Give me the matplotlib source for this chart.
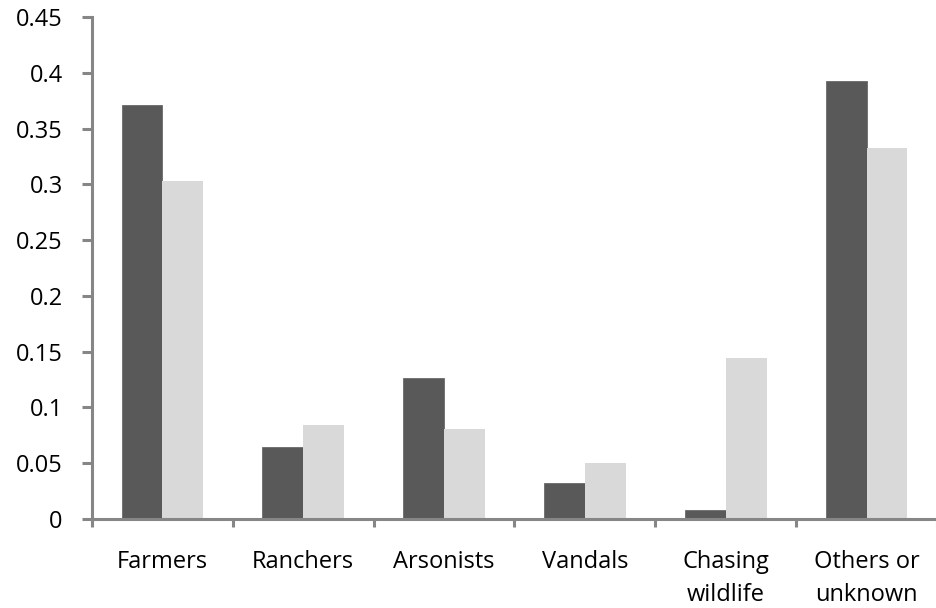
import numpy as np
import matplotlib
matplotlib.use("Agg")
import matplotlib.pyplot as plt

plt.rcParams['font.family'] = ['Open Sans', 'DejaVu Sans']

categories = ["Farmers", "Ranchers", "Arsonists", "Vandals", "Chasing\nwildlife", "Others or\nunknown"]
series_dark = [0.371, 0.0645, 0.1265, 0.0325, 0.0085, 0.3925]
series_light = [0.303, 0.0845, 0.0805, 0.0505, 0.1445, 0.3325]
yticks = [0, 0.05, 0.1, 0.15, 0.2, 0.25, 0.3, 0.35, 0.4, 0.45]
ytick_labels = ["0", "0.05", "0.1", "0.15", "0.2", "0.25", "0.3", "0.35", "0.4", "0.45"]

axis_grey = "#868686"

fig = plt.figure(figsize=(9.37, 6.08), dpi=100)
ax = fig.add_axes([92 / 937, 1 - 519 / 608, 1 - 92 / 937, (519 - 17) / 608])

x = np.arange(len(categories))
w = 0.29
ax.bar(x - w / 2, series_dark, width=w, color="#595959", edgecolor="#6a6a6a", linewidth=0.6)
ax.bar(x + w / 2, series_light, width=w, color="#d9d9d9", linewidth=0)

ax.set_xlim(-0.5, len(categories) - 0.5)
ax.set_ylim(0, 0.45)

for s in ["top", "right"]:
    ax.spines[s].set_visible(False)
for s in ["left", "bottom"]:
    ax.spines[s].set_color(axis_grey)
    ax.spines[s].set_linewidth(2.2)

ax.set_yticks(yticks)
ax.set_yticklabels(ytick_labels)
ax.tick_params(axis="y", direction="out", length=7, width=2.2, color=axis_grey,
               pad=14, labelsize=17, labelcolor="black")

# boundary ticks at major positions, labels at category centres
ax.set_xticks(np.arange(-0.5, len(categories), 1.0))
ax.set_xticklabels([])
ax.set_xticks(x, minor=True)
ax.set_xticklabels(categories, minor=True, linespacing=1.5)
ax.tick_params(axis="x", which="major", direction="out", length=6, width=2.2, color=axis_grey)
ax.tick_params(axis="x", which="minor", length=0, pad=22, labelsize=17, labelcolor="black")
for lbl in ax.get_xticklabels(minor=True):
    lbl.set_verticalalignment("top")

fig.savefig("out.png", dpi=100)
